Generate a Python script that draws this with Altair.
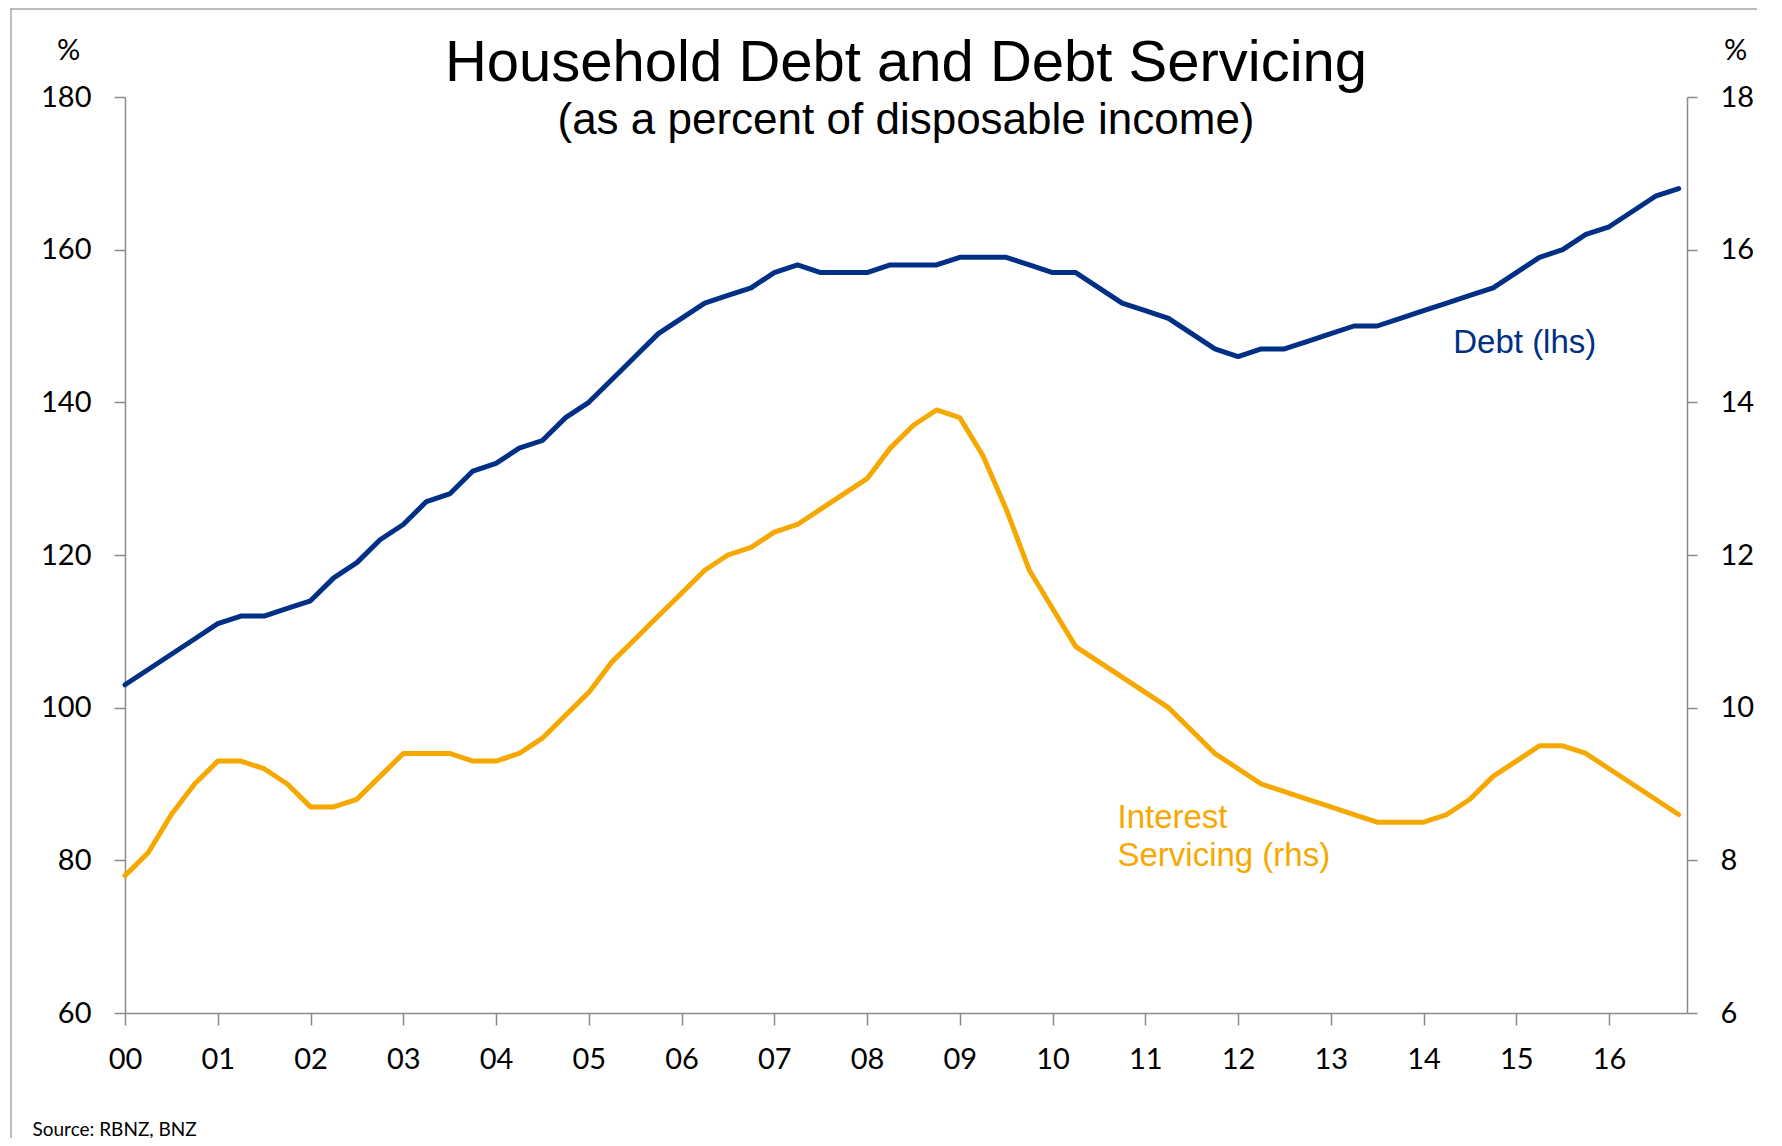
import altair as alt
import pandas as pd

# Quarterly observations, 2000Q1 .. 2016Q4 (x = years since 2000)
quarters = [i / 4 for i in range(68)]

debt_lhs = [
    103, 105, 107, 109,   # 2000
    111, 112, 112, 113,   # 2001
    114, 117, 119, 122,   # 2002
    124, 127, 128, 131,   # 2003
    132, 134, 135, 138,   # 2004
    140, 143, 146, 149,   # 2005
    151, 153, 154, 155,   # 2006
    157, 158, 157, 157,   # 2007
    157, 158, 158, 158,   # 2008
    159, 159, 159, 158,   # 2009
    157, 157, 155, 153,   # 2010
    152, 151, 149, 147,   # 2011
    146, 147, 147, 148,   # 2012
    149, 150, 150, 151,   # 2013
    152, 153, 154, 155,   # 2014
    157, 159, 160, 162,   # 2015
    163, 165, 167, 168,   # 2016
]

interest_rhs = [
    7.8, 8.1, 8.6, 9.0,     # 2000
    9.3, 9.3, 9.2, 9.0,     # 2001
    8.7, 8.7, 8.8, 9.1,     # 2002
    9.4, 9.4, 9.4, 9.3,     # 2003
    9.3, 9.4, 9.6, 9.9,     # 2004
    10.2, 10.6, 10.9, 11.2, # 2005
    11.5, 11.8, 12.0, 12.1, # 2006
    12.3, 12.4, 12.6, 12.8, # 2007
    13.0, 13.4, 13.7, 13.9, # 2008
    13.8, 13.3, 12.6, 11.8, # 2009
    11.3, 10.8, 10.6, 10.4, # 2010
    10.2, 10.0, 9.7, 9.4,   # 2011
    9.2, 9.0, 8.9, 8.8,     # 2012
    8.7, 8.6, 8.5, 8.5,     # 2013
    8.5, 8.6, 8.8, 9.1,     # 2014
    9.3, 9.5, 9.5, 9.4,     # 2015
    9.2, 9.0, 8.8, 8.6,     # 2016
]

year_ticks = list(range(17))
left_ticks = [60, 80, 100, 120, 140, 160, 180]
right_ticks = [6, 8, 10, 12, 14, 16, 18]

debt_label = ["Debt (lhs)"]
interest_label = ["Interest", "Servicing (rhs)"]

# annotation anchors (in data units)
debt_label_t, debt_label_v = [14.32], [146.4]
interest_label_t, interest_label_v = [10.70, 10.70], [8.43, 7.93]

NAVY = "#002F86"
ORANGE = "#F7A800"
GREY = "#8A8A8A"
TICK_FONT = "Lato"
TEXT_FONT = "Liberation Sans"

df = pd.DataFrame({"t": quarters, "debt": debt_lhs, "interest": interest_rhs})
df_debt_lab = pd.DataFrame({"t": debt_label_t, "debt": debt_label_v, "label": debt_label})
df_int_lab = pd.DataFrame({"t": interest_label_t, "interest": interest_label_v, "label": interest_label})

x_scale = alt.Scale(domain=[0, 16.84], nice=False, zero=False)
x_axis = alt.Axis(
    values=year_ticks,
    labelExpr="datum.value < 10 ? '0' + datum.value : '' + datum.value",
    title="Source: RBNZ, BNZ",
    titleFont=TICK_FONT, titleFontSize=19, titleFontWeight="normal", titleColor="#000000",
    titleAnchor="start", titleAlign="left", titleBaseline="alphabetic",
    titleX=-93, titleY=122,
    labelPadding=20, tickSize=12, grid=False, labelFlush=False, labelOverlap=False,
    labelFont=TICK_FONT, labelFontSize=29, labelColor="#000000",
)
x_enc = alt.X("t:Q", scale=x_scale, axis=x_axis)

left_scale = alt.Scale(domain=[60, 180], nice=False, zero=False)
right_scale = alt.Scale(domain=[6, 18], nice=False, zero=False)

left_axis = alt.Axis(
    orient="left", values=left_ticks, title="%", titleAngle=0,
    titleX=-57, titleY=-47, titleAlign="center", titleBaseline="middle",
    titleFont=TICK_FONT, titleFontSize=29, titleFontWeight="normal", titleColor="#000000",
    labelPadding=23, tickSize=11, grid=False,
    labelFont=TICK_FONT, labelFontSize=29, labelColor="#000000",
)
right_axis = alt.Axis(
    orient="right", values=right_ticks, title="%", titleAngle=0,
    titleX=48, titleY=-47, titleAlign="center", titleBaseline="middle",
    titleFont=TICK_FONT, titleFontSize=29, titleFontWeight="normal", titleColor="#000000",
    labelPadding=23, tickSize=10, grid=False,
    labelFont=TICK_FONT, labelFontSize=29, labelColor="#000000",
)
y_left = alt.Y("debt:Q", scale=left_scale, axis=left_axis)
y_right = alt.Y("interest:Q", scale=right_scale, axis=right_axis)

debt_line = alt.Chart(df).mark_line(
    color=NAVY, strokeWidth=5, strokeCap="round", strokeJoin="round"
).encode(x=x_enc, y=y_left)
debt_text = alt.Chart(df_debt_lab).mark_text(
    color=NAVY, font=TEXT_FONT, fontSize=33, align="left", baseline="alphabetic"
).encode(x=x_enc, y=y_left, text="label:N")

int_line = alt.Chart(df).mark_line(
    color=ORANGE, strokeWidth=5, strokeCap="round", strokeJoin="round"
).encode(x=x_enc, y=y_right)
int_text = alt.Chart(df_int_lab).mark_text(
    color=ORANGE, font=TEXT_FONT, fontSize=33, align="left", baseline="alphabetic"
).encode(x=x_enc, y=y_right, text="label:N")

one = pd.DataFrame({"k": [0]})
frame_left = alt.Chart(one).mark_rule(color="#A6A6A6", strokeWidth=1.5).encode(
    x=alt.value(-114), y=alt.value(-89), y2=alt.value(1060))
frame_top = alt.Chart(one).mark_rule(color="#A6A6A6", strokeWidth=1.5).encode(
    x=alt.value(-114), x2=alt.value(1700), y=alt.value(-88))

left_layer = alt.layer(debt_line, debt_text)
right_layer = alt.layer(int_line, int_text)

chart = alt.layer(left_layer, right_layer, frame_left, frame_top).resolve_scale(
    y="independent"
).properties(
    width=1562,
    height=916,
    autosize=alt.AutoSizeParams(type="none"),
    padding={"left": 117, "top": 89, "right": 70, "bottom": 125},
    title=alt.TitleParams(
        text="Household Debt and Debt Servicing",
        subtitle="(as a percent of disposable income)",
        font=TEXT_FONT, fontSize=58, fontWeight="normal", color="#000000",
        subtitleFont=TEXT_FONT, subtitleFontSize=44, subtitleColor="#000000",
        subtitlePadding=6, anchor="middle", offset=-136,
    ),
).configure(background="#FFFFFF").configure_view(
    strokeWidth=0, stroke="transparent"
).configure_axis(
    domainColor=GREY, tickColor=GREY, domainWidth=1.5, tickWidth=1.5, grid=False,
    labelFont=TICK_FONT, labelFontSize=29, labelColor="#000000",
)

chart.save("out.html", embed_options={"renderer": "svg", "actions": False})
